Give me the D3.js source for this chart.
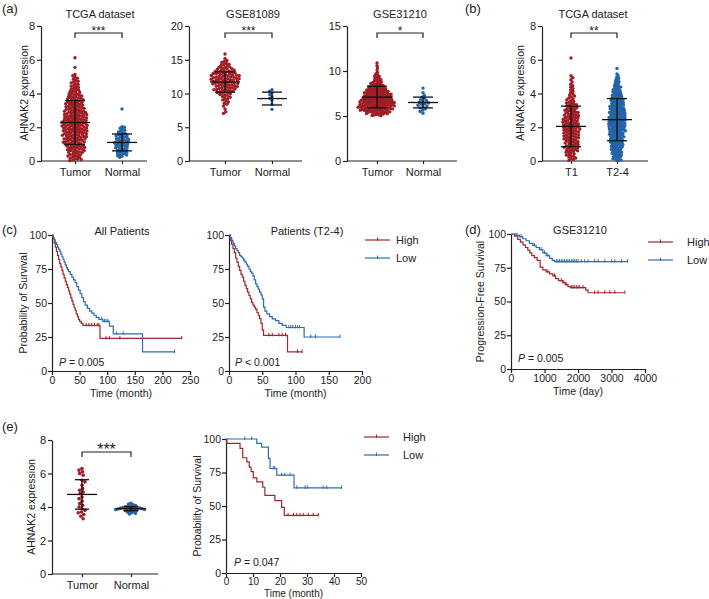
<!DOCTYPE html>
<meta charset="utf-8">
<script src="https://d3js.org/d3.v7.min.js"></script>
<style>
  body { margin: 0; background: #fff; }
  text { font-family: "Liberation Sans", Arial, sans-serif; fill: #222; }
</style>
<body>
<script>
// ---------- data ----------
// (a) TCGA dataset
var tcgaTumor = [0.02,0.05,0.08,0.11,0.14,0.17,0.2,0.23,
  0.27,0.3,0.31,0.35,0.38,0.4,0.42,0.46,0.49,
  0.51,0.54,0.55,0.58,0.61,0.62,0.66,0.67,0.7,0.72,0.74,
  0.76,0.79,0.8,0.83,0.84,0.87,0.88,0.9,0.93,0.94,0.97,0.99,
  1.01,1.02,1.05,1.07,1.08,1.11,1.13,1.14,1.16,1.19,1.2,1.22,1.24,
  1.26,1.27,1.3,1.31,1.33,1.34,1.37,1.38,1.4,1.41,1.44,1.45,1.47,1.49,
  1.5,1.52,1.53,1.55,1.57,1.58,1.6,1.62,1.63,1.65,1.66,1.68,1.7,1.72,1.74,
  1.75,1.77,1.78,1.8,1.81,1.83,1.84,1.86,1.87,1.89,1.9,1.92,1.93,1.95,1.96,1.98,
  2.0,2.02,2.03,2.05,2.06,2.08,2.09,2.11,2.12,2.14,2.15,2.17,2.18,2.2,2.21,2.23,
  2.25,2.27,2.28,2.3,2.31,2.33,2.34,2.36,2.37,2.39,2.4,2.42,2.43,2.45,2.46,2.48,
  2.5,2.52,2.53,2.55,2.57,2.58,2.6,2.62,2.63,2.65,2.67,2.68,2.7,2.72,2.74,
  2.76,2.77,2.79,2.81,2.82,2.84,2.86,2.88,2.89,2.91,2.93,2.95,2.96,2.98,
  3.0,3.02,3.04,3.06,3.08,3.1,3.12,3.14,3.16,3.18,3.2,3.22,3.24,
  3.26,3.29,3.31,3.33,3.35,3.38,3.4,3.42,3.44,3.46,3.48,3.5,
  3.53,3.55,3.58,3.6,3.63,3.65,3.68,3.7,3.72,3.74,
  3.77,3.8,3.82,3.85,3.88,3.9,3.93,3.96,3.99,
  4.02,4.06,4.09,4.13,4.16,4.2,4.24,
  4.27,4.31,4.36,4.4,4.44,4.48,
  4.53,4.58,4.63,4.68,4.73,
  4.78,4.85,4.91,4.97,
  5.05,5.13,5.55,6.12];
var tcgaNormal = [0.22,0.28,0.31,0.35,0.38,0.42,0.45,0.48,0.52,0.55,0.58,0.61,0.64,0.67,0.7,0.73,0.76,0.79,
  0.82,0.85,0.88,0.9,0.93,0.96,0.98,1.01,1.03,1.06,1.08,1.1,1.12,1.15,1.17,1.2,1.22,1.25,1.28,1.3,1.33,
  1.36,1.39,1.42,1.45,1.48,1.51,1.54,1.57,1.6,1.64,1.68,1.72,1.77,1.82,1.88,1.94,2.0,2.04,3.08];
var tcgaMean = [2.28, 1.1], tcgaSD = [1.3, 0.5];

// (a) GSE81089
var g81Tumor = [7.05,7.3,7.7,8.15,8.4,8.55,8.75,8.9,9.05,9.2,9.3,9.45,9.55,9.65,9.75,9.85,9.95,
  10.02,10.08,10.15,10.2,10.28,10.35,10.42,10.48,
  10.52,10.56,10.6,10.65,10.7,10.75,10.8,10.85,10.9,10.96,
  11.02,11.06,11.1,11.15,11.2,11.24,11.28,11.33,11.38,11.42,11.47,
  11.51,11.55,11.59,11.63,11.67,11.71,11.75,11.8,11.84,11.88,11.92,11.97,
  12.01,12.05,12.08,12.12,12.16,12.2,12.24,12.27,12.31,12.35,12.39,12.43,12.47,
  12.52,12.56,12.6,12.64,12.68,12.72,12.76,12.8,12.84,12.88,12.92,12.97,
  13.02,13.07,13.12,13.17,13.22,13.27,13.32,13.37,13.42,13.47,
  13.55,13.62,13.68,13.75,13.82,13.88,13.95,
  14.05,14.15,14.25,14.35,14.45,14.6,14.75,14.9,15.2,15.85];
var g81Normal = [10.55,10.35,10.1,9.85,9.55,9.3,8.95,8.4,7.65];
var g81Mean = [11.7, 9.25], g81SD = [1.5, 0.95];

// (a) GSE31210
var g31Tumor = [5.02,5.06,5.1,5.14,5.18,5.22,
  5.26,5.28,5.31,5.33,5.36,5.38,5.41,5.43,5.46,5.48,
  5.51,5.53,5.55,5.57,5.59,5.61,5.63,5.65,5.67,5.69,5.71,5.73,
  5.76,5.78,5.79,5.81,5.83,5.85,5.86,5.88,5.9,5.92,5.93,5.95,5.97,5.99,
  6.01,6.02,6.04,6.06,6.07,6.09,6.11,6.12,6.14,6.16,6.17,6.19,6.21,6.22,6.24,
  6.26,6.27,6.29,6.31,6.32,6.34,6.36,6.37,6.39,6.41,6.42,6.44,6.46,6.47,6.49,
  6.51,6.52,6.54,6.56,6.57,6.59,6.61,6.62,6.64,6.66,6.67,6.69,6.71,6.72,6.74,
  6.76,6.78,6.79,6.81,6.83,6.85,6.86,6.88,6.9,6.92,6.93,6.95,6.97,6.99,
  7.01,7.03,7.05,7.07,7.09,7.11,7.13,7.15,7.17,7.19,7.21,7.23,7.24,
  7.26,7.28,7.3,7.32,7.35,7.37,7.39,7.41,7.43,7.45,7.47,7.49,
  7.52,7.54,7.56,7.59,7.61,7.63,7.65,7.67,7.7,7.72,7.74,
  7.76,7.79,7.81,7.84,7.86,7.89,7.91,7.94,7.96,7.99,
  8.02,8.05,8.08,8.11,8.14,8.17,8.2,8.23,
  8.27,8.31,8.34,8.38,8.41,8.44,8.48,
  8.53,8.58,8.63,8.68,8.73,8.79,8.85,8.91,8.97,
  9.04,9.12,9.2,9.29,9.38,9.46,9.56,9.68,9.85,10.1,10.35,10.6,10.9];
var g31Normal = [5.3,5.5,5.65,5.8,5.9,6.0,6.1,6.2,6.3,6.35,6.45,6.5,6.6,6.7,6.8,6.95,7.1,7.3,7.6,8.1];
var g31Mean = [7.1, 6.5], g31SD = [1.2, 0.6];

// (b) TCGA T stage
var t1Vals = [0.04,0.09,0.13,0.18,0.23,0.27,0.31,0.35,0.39,0.43,0.47,
  0.52,0.55,0.58,0.61,0.64,0.67,0.7,0.73,0.76,0.79,0.81,0.84,0.87,0.89,0.92,0.95,0.98,
  1.01,1.04,1.06,1.09,1.12,1.14,1.17,1.2,1.23,1.26,1.28,1.31,1.33,1.36,1.38,1.41,1.43,1.46,1.48,
  1.51,1.53,1.56,1.58,1.61,1.63,1.66,1.68,1.71,1.73,1.76,1.78,1.8,1.83,1.85,1.87,1.9,1.92,1.94,1.96,1.99,
  2.01,2.03,2.05,2.08,2.1,2.12,2.15,2.17,2.19,2.21,2.24,2.26,2.28,2.31,2.33,2.36,2.38,2.41,2.43,2.46,2.48,
  2.51,2.53,2.56,2.58,2.61,2.63,2.66,2.68,2.71,2.73,2.76,2.79,2.81,2.84,2.87,2.89,2.92,2.95,2.98,
  3.01,3.04,3.07,3.1,3.13,3.16,3.19,3.22,3.27,3.3,3.34,3.37,3.41,3.44,3.48,
  3.53,3.58,3.63,3.68,3.73,3.79,3.85,3.91,3.97,4.05,4.13,4.21,4.3,4.38,4.46,4.55,4.68,4.82,4.94,5.05,6.1];
var t24Vals = [0.02,0.05,0.08,0.11,0.14,0.17,0.2,0.23,0.26,0.29,0.31,0.34,0.37,0.4,0.42,0.45,0.48,
  0.51,0.53,0.56,0.58,0.61,0.63,0.66,0.68,0.71,0.73,0.76,0.78,0.8,0.83,0.85,0.87,0.89,0.92,0.94,0.96,0.98,
  1.01,1.03,1.05,1.07,1.09,1.11,1.13,1.15,1.17,1.19,1.21,1.23,
  1.26,1.28,1.29,1.31,1.33,1.35,1.37,1.39,1.41,1.43,1.45,1.47,1.49,
  1.51,1.52,1.54,1.56,1.58,1.59,1.61,1.63,1.65,1.66,1.68,1.7,1.72,1.74,
  1.76,1.77,1.79,1.8,1.82,1.84,1.85,1.87,1.89,1.9,1.92,1.94,1.95,1.97,1.99,
  2.01,2.02,2.04,2.05,2.07,2.08,2.1,2.11,2.13,2.14,2.16,2.17,2.19,2.2,2.22,2.24,
  2.26,2.27,2.29,2.3,2.32,2.33,2.35,2.36,2.38,2.39,2.41,2.42,2.44,2.45,2.47,2.49,
  2.51,2.52,2.54,2.55,2.57,2.58,2.6,2.61,2.63,2.64,2.66,2.67,2.69,2.7,2.72,2.74,
  2.76,2.77,2.79,2.8,2.82,2.84,2.85,2.87,2.89,2.9,2.92,2.94,2.95,2.97,2.99,
  3.01,3.02,3.04,3.06,3.08,3.09,3.11,3.13,3.15,3.16,3.18,3.2,3.22,3.24,
  3.26,3.28,3.29,3.31,3.33,3.35,3.37,3.39,3.41,3.43,3.45,3.47,3.49,
  3.51,3.53,3.55,3.57,3.59,3.61,3.63,3.65,3.67,3.69,3.71,3.73,
  3.76,3.78,3.81,3.83,3.86,3.88,3.91,3.93,3.96,3.98,
  4.02,4.05,4.08,4.11,4.14,4.17,4.2,4.23,4.27,4.31,4.34,4.38,4.41,4.44,4.48,
  4.53,4.58,4.63,4.68,4.73,4.79,4.85,4.91,4.97,5.06,5.16,5.48];
var tStageMean = [2.05, 2.45], tStageSD = [1.2, 1.25];

// (e) cohort
var eTumor = [6.3,6.2,6.1,6.0,5.9,5.6,5.5,5.3,5.1,5.0,4.9,4.8,4.6,4.5,4.35,4.2,4.1,4.0,3.9,3.8,3.7,3.65,3.55,3.45,3.3];
var eNormal = [3.58,3.62,3.66,3.7,3.73,3.76,3.79,3.81,3.83,3.85,3.86,3.88,3.89,3.9,3.91,3.92,3.93,3.94,3.96,3.97,
  3.99,4.01,4.03,4.06,4.09,4.13,4.17,4.22];
var eMean = [4.75, 3.9], eSD = [0.88, 0.12];

// Kaplan-Meier steps [time, survival %], last time, censor times
var c1High = [[0,100],[2,97],[4,94],[6,91],[8,88],[10,85],[12,82],[14,79],[16,76.5],[18,74],[20,71],[22,68.5],
  [24,66],[26,63.5],[28,61.5],[30,59],[32,56.5],[34,54],[36,51.5],[38,49],[40,46.5],[42,44.5],[44,42],[46,40],
  [48,38],[50,36.5],[53,35],[56,33.5],[87,24]];
var c1HighEnd = 235, c1HighCens = [62,67,72,77,82,85,98,104,123,235];
var c1Low = [[0,100],[2,98],[4,96.5],[6,94.5],[8,93],[10,91],[12,89.5],[14,88],[16,86],[18,84],[20,82],[22,80],
  [24,78],[26,76],[28,74.5],[30,73],[33,71],[36,69],[39,67],[42,65],[45,62],[48,59.5],[51,57],[54,54],[57,51],
  [60,48.5],[64,46],[68,44],[72,42.5],[76,41],[80,39.5],[85,38],[92,36.5],[104,33],[111,27.3],[164,14]];
var c1LowEnd = 222, c1LowCens = [90,95,98,101,117,129,222];

var c2High = [[0,100],[2,96],[4,93],[6,90],[8,87],[10,83],[12,80],[14,77],[16,74],[18,71],[20,69],[22,66],
  [24,63],[26,60.5],[28,58],[30,55.5],[32,53],[34,50.5],[36,48.5],[38,47],[40,45.5],[42,43],[44,41],[46,38.5],
  [48,35],[50,30],[52,26.2],[88,14]];
var c2HighEnd = 110, c2HighCens = [60,65,75,80,85,103,110];
var c2Low = [[0,100],[2,98],[4,96],[6,94],[8,92],[10,90],[12,88.5],[14,87],[16,85],[18,84],[20,83],[22,81.5],
  [24,80],[26,78.5],[28,77],[30,75],[32,73],[34,72],[36,70],[38,67],[40,64],[42,62],[44,60],[46,58],[48,56],
  [50,53],[52,47],[54,44],[57,42],[61,40],[65,38.4],[70,37],[75,35],[80,33.5],[86,32],[113,25]];
var c2LowEnd = 167, c2LowCens = [90,93,96,100,103,106,123,130,167];

var dHigh = [[0,100],[100,98.5],[200,96],[280,94],[360,92],[430,90],[500,88],[560,86],[620,84],[700,82.5],
  [780,80.5],[870,75.5],[950,73.5],[1050,72],[1150,70.5],[1250,69],[1330,67],[1420,65.5],[1540,64],[1620,62.5],
  [1700,61],[1770,60.3],[2230,58.5],[2300,56.5]];
var dHighEnd = 3400, dHighCens = [1100,1300,1500,1580,1650,1800,1850,1900,1950,2000,2050,2150,2500,2600,2800,2950,3100,3400];
var dLow = [[0,100],[150,99],[250,98],[350,96.5],[450,95],[550,93],[650,91.5],[750,90],[850,88.5],[950,86],
  [1050,84],[1150,82],[1230,80.5],[1300,79.5]];
var dLowEnd = 3480, dLowCens = [180,300,700,900,1000,1100,1350,1400,1450,1500,1550,1600,1650,1700,1750,1800,1850,
  1900,1950,2000,2100,2200,2300,2500,2600,2800,3000,3100,3300,3480];

var eHigh = [[0,100],[0.3,96.7],[5.2,93],[6.2,86],[7.7,83],[8.6,79],[9.3,75.6],[10.1,71],[11.4,68],[13.6,64],
  [14.4,58],[18.1,54],[20.6,49],[21.6,43]];
var eHighEnd = 34.2, eHighCens = [23,25,26.2,27.4,28.6,30.5,32.3,34.2];
var eLow = [[0,100],[11.4,96.8],[13.2,94],[15.7,85.5],[16.3,78],[18.8,73],[25.2,63.5]];
var eLowEnd = 42.8, eLowCens = [7,9.5,17.5,18.1,20.6,21.8,23.7,26.2,29.3,30.1,36,37.3,42.8];

// ---------- drawing ----------
var red = "#9f1d24", blue = "#2563a9";
var kmRed = "#a3262c", kmBlue = "#2e6cb3";

var svg = d3.select("body").append("svg")
    .attr("width", 709)
    .attr("height", 599);

// simple beeswarm: put each point as near the centre as it can go without overlap
function swarm(vals, y, gap) {
    var pts = vals.map(function(v) { return {v: v, y: y(v), dx: 0}; })
        .sort(function(a, b) { return a.y - b.y; });
    var done = [];
    pts.forEach(function(p, k) {
        var iv = [];
        done.forEach(function(q) {
            var dy = p.y - q.y;
            if (Math.abs(dy) < gap) {
                var w = Math.sqrt(gap * gap - dy * dy);
                iv.push([q.dx - w, q.dx + w]);
            }
        });
        var cands = [0];
        iv.forEach(function(d) { cands.push(d[0], d[1]); });
        var s = k % 2 ? 1 : -1;
        cands.sort(function(a, b) { return Math.abs(a) - Math.abs(b) || s * (a - b); });
        p.dx = cands.find(function(c) {
            return iv.every(function(d) { return c <= d[0] + 1e-6 || c >= d[1] - 1e-6; });
        });
        done.push(p);
    });
    return pts;
}

function styleAxis(ax, size) {
    ax.attr("font-family", null).attr("font-size", null);
    ax.selectAll("path, line").attr("stroke", "#222").attr("stroke-width", 1.2);
    ax.selectAll("text").style("font-size", size + "px");
}

function label(x, y, txt, size, anchor) {
    return svg.append("text").attr("x", x).attr("y", y)
        .attr("text-anchor", anchor || "middle")
        .style("font-size", size + "px")
        .text(txt);
}

function yLabel(x, y, txt) {
    svg.append("text")
        .attr("transform", "translate(" + x + "," + y + ")rotate(-90)")
        .attr("text-anchor", "middle")
        .style("font-size", "10.5px")
        .text(txt);
}

function dotPanel(p) {
    var y = d3.scaleLinear().domain(p.domain).range([p.yBot, p.yTop]);
    var x = d3.scalePoint().domain(p.cats).range(p.catX);

    var ay = svg.append("g")
        .attr("transform", "translate(" + p.x0 + ",0)")
        .call(d3.axisLeft(y).tickValues(p.ticks).tickSize(4).tickSizeOuter(0).tickPadding(2));
    styleAxis(ay, 11);

    svg.append("line")
        .attr("x1", p.x0).attr("x2", p.x1)
        .attr("y1", p.yBot).attr("y2", p.yBot)
        .attr("stroke", "#222").attr("stroke-width", 1.2);
    var ax = svg.append("g")
        .attr("transform", "translate(0," + p.yBot + ")")
        .call(d3.axisBottom(x).tickSize(3).tickPadding(4));
    ax.select(".domain").remove();
    styleAxis(ax, 11);

    p.groups.forEach(function(vals, i) {
        var cx = x(p.cats[i]);
        svg.append("g").selectAll("circle")
            .data(swarm(vals, y, p.gap[i]))
            .enter().append("circle")
            .attr("cx", function(d) { return cx + d.dx; })
            .attr("cy", function(d) { return d.y; })
            .attr("r", p.r)
            .attr("fill", p.colors[i]);

        // mean and SD bars
        var m = p.mean[i], sd = p.sd[i];
        var eb = svg.append("g").attr("stroke", "#111").attr("stroke-width", 1.3);
        eb.append("line").attr("x1", cx - 15).attr("x2", cx + 15).attr("y1", y(m)).attr("y2", y(m));
        eb.append("line").attr("x1", cx).attr("x2", cx).attr("y1", y(m - sd)).attr("y2", y(m + sd));
        [m - sd, m + sd].forEach(function(v) {
            eb.append("line").attr("x1", cx - p.cap).attr("x2", cx + p.cap).attr("y1", y(v)).attr("y2", y(v));
        });
    });

    // significance bracket
    var x1 = x(p.cats[0]), x2 = x(p.cats[1]);
    svg.append("path")
        .attr("d", "M" + x1 + "," + (p.brY + 5) + "V" + p.brY + "H" + x2 + "V" + (p.brY + 5))
        .attr("fill", "none").attr("stroke", "#222").attr("stroke-width", 1.2);
    label((x1 + x2) / 2, p.brY + p.sigSize * 0.2, p.sig, p.sigSize);

    if (p.title) label(p.titleX, 18, p.title, 11);
}

function stepAt(steps, t) {
    var s = steps[0][1];
    steps.forEach(function(d) { if (d[0] <= t) s = d[1]; });
    return s;
}

function kmPanel(p) {
    var x = d3.scaleLinear().domain(p.xDomain).range([p.x0, p.x1]);
    var y = d3.scaleLinear().domain([0, 100]).range([p.yBot, p.yTop]);
    var fs = p.fs || 10.5;

    var ax = svg.append("g")
        .attr("transform", "translate(0," + p.yBot + ")")
        .call(d3.axisBottom(x).tickValues(p.xTicks).tickSize(4).tickSizeOuter(0).tickPadding(p.xPad || 2).tickFormat(d3.format("d")));
    styleAxis(ax, fs);
    var ay = svg.append("g")
        .attr("transform", "translate(" + p.x0 + ",0)")
        .call(d3.axisLeft(y).tickValues([0, 25, 50, 75, 100]).tickSize(4).tickSizeOuter(0).tickPadding(1));
    styleAxis(ay, 10.5);

    var line = d3.line()
        .x(function(d) { return x(d[0]); })
        .y(function(d) { return y(d[1]); })
        .curve(d3.curveStepAfter);

    p.curves.forEach(function(c) {
        var pts = c.steps.concat([[c.end, c.steps[c.steps.length - 1][1]]]);
        svg.append("path").attr("d", line(pts))
            .attr("fill", "none").attr("stroke", c.color).attr("stroke-width", 1.2);
        svg.append("g").selectAll("line")
            .data(c.cens)
            .enter().append("line")
            .attr("x1", function(t) { return x(t); })
            .attr("x2", function(t) { return x(t); })
            .attr("y1", function(t) { return y(stepAt(c.steps, t)) - 2.5; })
            .attr("y2", function(t) { return y(stepAt(c.steps, t)) + 1; })
            .attr("stroke", c.color).attr("stroke-width", 1);
    });

    if (p.title) label(p.titleX, p.yTop, p.title, 11);
    var pt = svg.append("text").attr("x", p.pX).attr("y", p.pY).style("font-size", "10.5px");
    pt.append("tspan").style("font-style", "italic").text("P");
    pt.append("tspan").text(p.pText);

    label((p.x0 + p.x1) / 2, p.yBot + p.xLabDy, p.xLabel, fs);
    yLabel(p.yLabX, (p.yTop + p.yBot) / 2, p.yLabel);

    if (p.legend) {
        [["High", kmRed], ["Low", kmBlue]].forEach(function(l, i) {
            var ly = p.legend[1] + i * 18, lx = p.legend[0];
            svg.append("line").attr("x1", lx).attr("x2", lx + 25).attr("y1", ly).attr("y2", ly)
                .attr("stroke", l[1]).attr("stroke-width", 1.2);
            svg.append("line").attr("x1", lx + 12.5).attr("x2", lx + 12.5).attr("y1", ly - 2.5).attr("y2", ly + 1)
                .attr("stroke", l[1]).attr("stroke-width", 1);
            label(lx + p.legendText, ly + 4, l[0], 11, "start");
        });
    }
}

// ----- row 1 -----
label(2, 13, "(a)", 13, "start");
dotPanel({x0: 41, x1: 147, yTop: 26, yBot: 161, domain: [0, 8], ticks: [0, 2, 4, 6, 8],
    cats: ["Tumor", "Normal"], catX: [75, 122], groups: [tcgaTumor, tcgaNormal], colors: [red, blue],
    mean: tcgaMean, sd: tcgaSD, cap: 10, r: 1.7, gap: [2.6, 2.5],
    title: "TCGA dataset", titleX: 100, sig: "***", sigSize: 12, brY: 33});
yLabel(28, 93, "AHNAK2 expression");

dotPanel({x0: 189, x1: 302, yTop: 26, yBot: 161, domain: [0, 20], ticks: [0, 5, 10, 15, 20],
    cats: ["Tumor", "Normal"], catX: [225, 272], groups: [g81Tumor, g81Normal], colors: [red, blue],
    mean: g81Mean, sd: g81SD, cap: 10, r: 1.7, gap: [2.8, 2.8],
    title: "GSE81089", titleX: 253, sig: "***", sigSize: 12, brY: 33});

dotPanel({x0: 347, x1: 457, yTop: 26, yBot: 161, domain: [0, 15], ticks: [0, 5, 10, 15],
    cats: ["Tumor", "Normal"], catX: [377, 423], groups: [g31Tumor, g31Normal], colors: [red, blue],
    mean: g31Mean, sd: g31SD, cap: 10, r: 1.7, gap: [2.3, 3.0],
    title: "GSE31210", titleX: 400, sig: "*", sigSize: 12, brY: 33});

label(465, 13, "(b)", 13, "start");
dotPanel({x0: 542, x1: 648, yTop: 26, yBot: 161, domain: [0, 8], ticks: [0, 2, 4, 6, 8],
    cats: ["T1", "T2-4"], catX: [571, 617], groups: [t1Vals, t24Vals], colors: [red, blue],
    mean: tStageMean, sd: tStageSD, cap: 10, r: 1.7, gap: [2.6, 2.1],
    title: "TCGA dataset", titleX: 593, sig: "**", sigSize: 12, brY: 33});
yLabel(524, 93, "AHNAK2 expression");

// ----- row 2 -----
label(2, 234, "(c)", 13, "start");
kmPanel({x0: 52, x1: 190, yTop: 235, yBot: 371, xDomain: [0, 250], xTicks: [0, 50, 100, 150, 200, 250],
    curves: [{steps: c1High, end: c1HighEnd, cens: c1HighCens, color: kmRed},
             {steps: c1Low, end: c1LowEnd, cens: c1LowCens, color: kmBlue}],
    title: "All Patients", titleX: 122, pText: " = 0.005", pX: 59, pY: 366,
    xLabel: "Time (month)", xLabDy: 26, yLabel: "Probability of Survival", yLabX: 27});

kmPanel({x0: 229, x1: 362, yTop: 235, yBot: 371, xDomain: [0, 200], xTicks: [0, 50, 100, 150, 200],
    curves: [{steps: c2High, end: c2HighEnd, cens: c2HighCens, color: kmRed},
             {steps: c2Low, end: c2LowEnd, cens: c2LowCens, color: kmBlue}],
    title: "Patients (T2-4)", titleX: 307, pText: " < 0.001", pX: 235, pY: 366,
    xLabel: "Time (month)", xLabDy: 26, yLabel: "", yLabX: 0, legend: [365, 240], legendText: 31});

label(465, 234, "(d)", 13, "start");
kmPanel({x0: 511, x1: 645, yTop: 234, yBot: 369, xDomain: [0, 4000], xTicks: [0, 1000, 2000, 3000, 4000],
    curves: [{steps: dHigh, end: dHighEnd, cens: dHighCens, color: kmRed},
             {steps: dLow, end: dLowEnd, cens: dLowCens, color: kmBlue}],
    title: "GSE31210", titleX: 580, pText: " = 0.005", pX: 518, pY: 362,
    xLabel: "Time (day)", xLabDy: 26, yLabel: "Progression-Free Survival", yLabX: 484, legend: [648, 242], legendText: 39});

// ----- row 3 -----
label(2, 431, "(e)", 13, "start");
dotPanel({x0: 52, x1: 158, yTop: 440, yBot: 574, domain: [0, 8], ticks: [0, 2, 4, 6, 8],
    cats: ["Tumor", "Normal"], catX: [82, 131], groups: [eTumor, eNormal], colors: [red, blue],
    mean: eMean, sd: eSD, cap: 7, r: 1.8, gap: [3.4, 2.5],
    title: null, sig: "***", sigSize: 16, brY: 452});
yLabel(35, 507, "AHNAK2 expression");

kmPanel({x0: 226, x1: 361, yTop: 439, yBot: 573, xDomain: [0, 50], xTicks: [0, 10, 20, 30, 40, 50],
    curves: [{steps: eHigh, end: eHighEnd, cens: eHighCens, color: kmRed},
             {steps: eLow, end: eLowEnd, cens: eLowCens, color: kmBlue}],
    title: null, pText: " = 0.047", pX: 234, pY: 566, fs: 10, xPad: 1,
    xLabel: "Time (month)", xLabDy: 24, yLabel: "Probability of Survival", yLabX: 201, legend: [364, 437], legendText: 39});
</script>
</body>
